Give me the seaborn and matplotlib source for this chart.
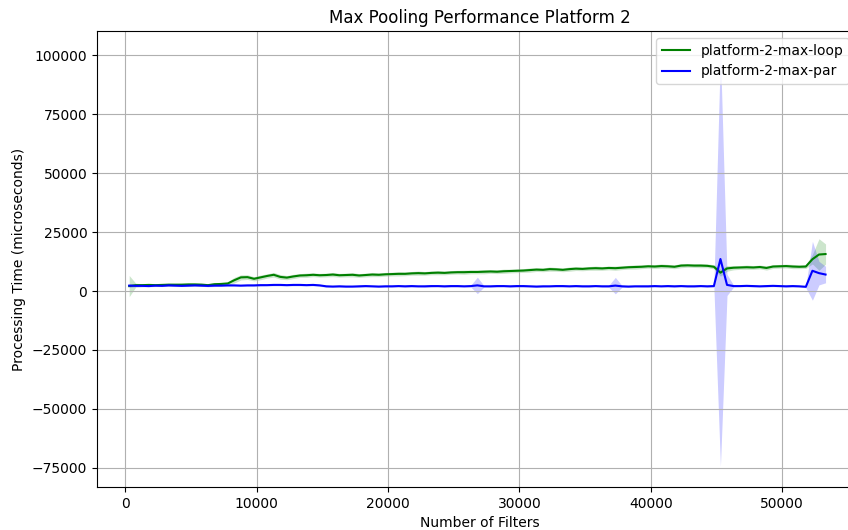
import numpy as np
import pandas as pd
import matplotlib
matplotlib.use("Agg")
import matplotlib.pyplot as plt
import seaborn as sns

# number of filters (x axis)
filters = list(range(300, 53301, 500))

# platform-2-max-loop : mean and std (microseconds)
loop_mean = [2100, 2500, 2500, 2600, 2500, 2600, 2700, 2700, 2700, 2800,
             2800, 2700, 2500, 2900, 3000, 3200, 4600, 5800, 5900, 5200,
             5800, 6400, 6900, 6000, 5700, 6200, 6600, 6700, 6900, 6700,
             6800, 7000, 6700, 6800, 6900, 6600, 6800, 7000, 6900, 7100,
             7200, 7300, 7300, 7500, 7600, 7500, 7700, 7800, 7700, 7900,
             8000, 8000, 8100, 8100, 8200, 8300, 8200, 8400, 8500, 8600,
             8700, 8900, 9100, 9000, 9300, 9200, 9000, 9300, 9500, 9400,
             9600, 9700, 9600, 9800, 9700, 9900, 10100, 10200, 10300, 10500,
             10400, 10600, 10500, 10300, 10800, 10900, 10800, 10800, 10700, 10300,
             7800, 9600, 9900, 10000, 10100, 10000, 10200, 9800, 10400, 10500,
             10600, 10400, 10300, 10400, 13500, 15500, 15700]
loop_std = [4500, 800, 600, 600, 500, 500, 600, 500, 600, 600,
            600, 700, 600, 600, 700, 800, 1200, 1100, 1000, 900,
            1000, 900, 1000, 1000, 900, 900, 800, 900, 800, 800,
            800, 900, 800, 800, 900, 800, 800, 900, 800, 800,
            800, 900, 800, 800, 900, 800, 800, 900, 800, 800,
            800, 900, 800, 800, 900, 800, 800, 900, 800, 800,
            800, 900, 800, 800, 900, 800, 800, 900, 800, 800,
            800, 900, 800, 800, 900, 800, 800, 900, 800, 800,
            800, 900, 800, 800, 900, 800, 800, 900, 800, 900,
            1500, 1200, 900, 800, 900, 800, 800, 900, 800, 800,
            800, 900, 800, 800, 2000, 6700, 4300]

# platform-2-max-par : mean and std (microseconds)
par_mean = [2300, 2200, 2200, 2100, 2300, 2200, 2400, 2300, 2200, 2300,
            2400, 2300, 2200, 2300, 2300, 2400, 2400, 2300, 2400, 2400,
            2500, 2500, 2600, 2600, 2500, 2600, 2600, 2500, 2600, 2400,
            2000, 1900, 2000, 1900, 1900, 2000, 2100, 2000, 1900, 2000,
            2000, 2100, 2000, 2100, 2000, 2000, 2100, 2100, 2000, 2100,
            2100, 2000, 2100, 2400, 2000, 2000, 2100, 2100, 2000, 2100,
            2100, 2000, 1900, 2000, 2000, 2100, 2100, 2000, 2100, 2000,
            2000, 2100, 2000, 2000, 2300, 2000, 1900, 2000, 2000, 2000,
            2100, 2000, 2100, 2000, 2100, 2000, 2000, 2100, 2000, 2100,
            13600, 2600, 2100, 2100, 2200, 2100, 2000, 2100, 2200, 2100,
            2000, 2100, 2000, 1800, 8600, 7600, 7000]
par_std = [800, 400, 400, 300, 400, 300, 400, 400, 300, 400,
           400, 300, 400, 400, 300, 400, 400, 300, 400, 400,
           400, 300, 400, 400, 300, 400, 400, 300, 400, 400,
           400, 300, 400, 400, 300, 400, 400, 300, 400, 400,
           400, 300, 400, 400, 300, 400, 400, 300, 400, 400,
           400, 300, 400, 3500, 300, 400, 400, 300, 400, 400,
           400, 300, 400, 400, 300, 400, 400, 300, 400, 400,
           400, 300, 400, 400, 3500, 400, 400, 300, 400, 400,
           400, 300, 400, 400, 300, 400, 400, 300, 400, 400,
           88000, 4500, 400, 300, 400, 400, 300, 400, 400, 300,
           400, 400, 300, 400, 12500, 5000, 3500]

data = pd.DataFrame({"filters": filters,
                     "loop_mean": loop_mean, "loop_std": loop_std,
                     "par_mean": par_mean, "par_std": par_std})

fig = plt.figure(figsize=(8.48, 5.3), dpi=100)
# the original picture is cropped on the right, so the axes run past the edge
ax = fig.add_axes([97 / 848, 43 / 530, 766 / 848, 456 / 530])

sns.lineplot(data=data, x="filters", y="loop_mean", color="green",
             label="platform-2-max-loop", ax=ax)
ax.fill_between(data["filters"], data["loop_mean"] - data["loop_std"],
                data["loop_mean"] + data["loop_std"], color="green", alpha=0.2, linewidth=0)

sns.lineplot(data=data, x="filters", y="par_mean", color="blue",
             label="platform-2-max-par", ax=ax)
ax.fill_between(data["filters"], data["par_mean"] - data["par_std"],
                data["par_mean"] + data["par_std"], color="blue", alpha=0.2, linewidth=0)

ax.set_xlim(-2150, 56150)
ax.set_title("Max Pooling Performance Platform 2")
ax.set_xlabel("Number of Filters")
ax.set_ylabel("Processing Time (microseconds)")
ax.grid(True)
ax.legend(loc="upper right", bbox_to_anchor=(1 - 7 / 766, 1))

fig.savefig("out.png", dpi=100)
